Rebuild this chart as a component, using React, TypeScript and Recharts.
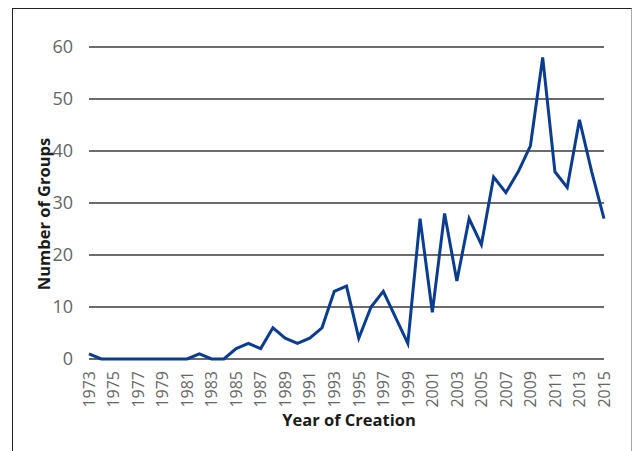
import { CartesianGrid, Label, Line, LineChart, XAxis, YAxis } from "recharts";

const years = [
  1973, 1974, 1975, 1976, 1977, 1978, 1979, 1980, 1981, 1982, 1983, 1984, 1985, 1986,
  1987, 1988, 1989, 1990, 1991, 1992, 1993, 1994, 1995, 1996, 1997, 1998, 1999, 2000,
  2001, 2002, 2003, 2004, 2005, 2006, 2007, 2008, 2009, 2010, 2011, 2012, 2013, 2014,
  2015,
];
const groups = [
  1, 0, 0, 0, 0, 0, 0, 0, 0, 1, 0, 0, 2, 3,
  2, 6, 4, 3, 4, 6, 13, 14, 4, 10, 13, 8, 3, 27,
  9, 28, 15, 27, 22, 35, 32, 36, 41, 58, 36, 33, 46, 36,
  27,
];
const yTicks = [0, 10, 20, 30, 40, 50, 60];

const data = years.map((y, i) => ({ year: y, groups: groups[i] }));

const FONT = "'Open Sans', 'Noto Sans', sans-serif";

function YearTick({ x, y, payload }: any) {
  return (
    <text
      x={x}
      y={y}
      transform={`rotate(-90 ${x} ${y})`}
      textAnchor="end"
      dy="0.36em"
      fill="#666"
      fontSize={16}
      fontFamily={FONT}
    >
      {payload.value}
    </text>
  );
}

export default function App() {
  return (
    <div style={{ position: "absolute", left: 0, top: 0, width: 633, height: 451, background: "#fff", overflow: "hidden" }}>
      <div
        style={{
          position: "absolute",
          left: 12,
          top: 8,
          width: 618,
          height: 480,
          borderTop: "1.5px solid #222",
          borderLeft: "1.5px solid #222",
          borderRight: "1.5px solid #aaa",
        }}
      />
      <LineChart
        width={633}
        height={451}
        data={data}
        margin={{ top: 47, right: 29, left: 29, bottom: 0 }}
        style={{ position: "absolute", left: 0, top: 0 }}
      >
        <CartesianGrid vertical={false} stroke="#3a3a3a" strokeWidth={1.4} />
        <XAxis
          dataKey="year"
          type="number"
          domain={[1973, 2015]}
          ticks={years.filter((y) => (y - 1973) % 2 === 0)}
          interval={0}
          axisLine={false}
          tickLine={false}
          tick={<YearTick />}
          tickMargin={6}
          height={92}
        >
          <Label
            content={() => (
              <text x={349} y={426} textAnchor="middle" fontSize={16.5} fontWeight={700} fill="#1a1a1a" fontFamily={FONT}>
                Year of Creation
              </text>
            )}
          />
        </XAxis>
        <YAxis
          domain={[0, 60]}
          ticks={yTicks}
          axisLine={false}
          tickLine={false}
          width={60}
          tickMargin={10}
          tick={{ fill: "#666", fontSize: 18, fontFamily: FONT }}
        >
          <Label
            content={() => (
              <text
                x={44}
                y={214}
                transform="rotate(-90 44 214)"
                textAnchor="middle"
                dy="0.35em"
                fontSize={16.5}
                fontWeight={700}
                fill="#1a1a1a"
                fontFamily={FONT}
              >
                Number of Groups
              </text>
            )}
          />
        </YAxis>
        <Line
          type="linear"
          dataKey="groups"
          stroke="#0a3d91"
          strokeWidth={3}
          dot={false}
          isAnimationActive={false}
        />
      </LineChart>
    </div>
  );
}
